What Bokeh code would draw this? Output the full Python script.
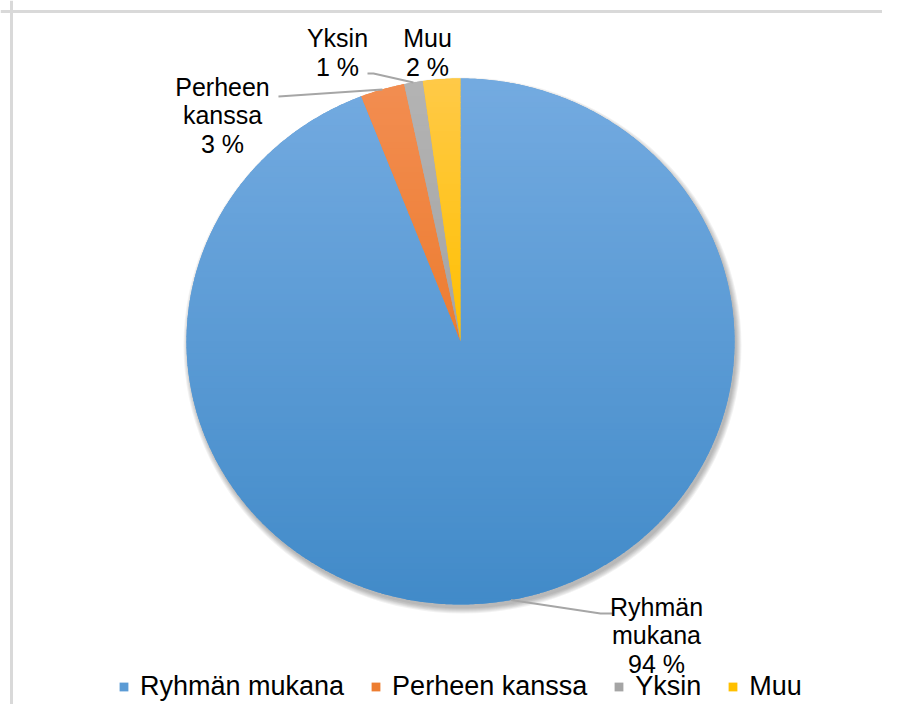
import numpy as np
from bokeh.plotting import figure
from bokeh.models import Range1d, Span, Legend, LegendItem
from bokeh.core.properties import value
from bokeh.embed import file_html
from bokeh.resources import INLINE

# ---- data ----
categories = ["Ryhmän mukana", "Perheen kanssa", "Yksin", "Muu"]
shares = [94.1, 2.6, 1.1, 2.2]
label_names = ["Ryhmän\nmukana", "Perheen\nkanssa", "Yksin", "Muu"]

# ---- styles ----
colors = ["#5B9BD5", "#ED7D31", "#A5A5A5", "#FFC000"]
top_rgb = [(116, 171, 225), (243, 142, 82), (180, 180, 180), (255, 202, 72)]
mid_rgb = [(91, 155, 213), (237, 125, 49), (165, 165, 165), (255, 192, 0)]
FONT = "Liberation Sans"

# screenshot-pixel coordinate system
W, H = 882, 704
cx, cy = 460.0, 341.0
rx, ry = 274.0, 263.0

# label layout: (block centre x, block centre y, leader attach points)
label_layout = {
    "Ryhmän mukana": (656, 635, [(600, 613), (612, 613)]),
    "Perheen kanssa": (222, 115, [(278, 96)]),
    "Yksin": (337, 52, [(373, 73), (367, 73)]),
    "Muu": (427, 52, None),
}

p = figure(width=W, height=H, output_backend="svg", toolbar_location=None,
           x_range=Range1d(0, W), y_range=Range1d(H, 0),
           min_border=0, outline_line_color=None,
           background_fill_color="white", border_fill_color="white")
p.axis.visible = False
p.grid.visible = False

# border (top/left of the chart area)
p.add_layout(Span(location=11, dimension="height", line_color="#D9D9D9", line_width=3))
p.add_layout(Span(location=11, dimension="width", line_color="#D9D9D9", line_width=3))

# soft shadow
ks = np.arange(0, 12, 2)
p.ellipse(x=[cx + 2] * len(ks), y=[cy + 4] * len(ks),
          width=[2 * rx + k for k in ks], height=[2 * ry + k for k in ks],
          fill_color="black", fill_alpha=0.05, line_color=None)

# slice geometry
total = sum(shares)
fr = np.array(shares) / total
ends = np.cumsum(fr) * 2 * np.pi
starts = ends - fr * 2 * np.pi
mids = (starts + ends) / 2


def slice_poly(a0, a1):
    n = max(3, int((a1 - a0) / (2 * np.pi) * 720))
    t = np.linspace(a0, a1, n)
    xs = np.concatenate([[cx], cx + rx * np.sin(t)])
    ys = np.concatenate([[cy], cy - ry * np.cos(t)])
    return xs, ys


def clip_half(poly, yb, keep_above):
    out = []
    if not poly:
        return out

    def inside(pt):
        return pt[1] >= yb if keep_above else pt[1] <= yb

    def inter(a, b):
        t = (yb - a[1]) / (b[1] - a[1])
        return (a[0] + t * (b[0] - a[0]), yb)

    for i in range(len(poly)):
        cur = poly[i]
        prev = poly[i - 1]
        if inside(cur):
            if not inside(prev):
                out.append(inter(prev, cur))
            out.append(cur)
        elif inside(prev):
            out.append(inter(prev, cur))
    return out


polys = [slice_poly(a0, a1) for a0, a1 in zip(starts, ends)]

# base solid slices (used by legend)
base = p.patches(xs=[list(px) for px, _ in polys], ys=[list(py) for _, py in polys],
                 fill_color=colors, line_color=None)

# gradient strips
nb = 90
edges = np.linspace(cy - ry, cy + ry, nb + 1)
sx, sy, sc = [], [], []
for i, (px, py) in enumerate(polys):
    poly = list(zip(px, py))
    tr, mr = np.array(top_rgb[i]), np.array(mid_rgb[i])
    br = 2 * mr - tr
    for b in range(nb):
        ya, yb = edges[b], edges[b + 1] + 1.0
        part = clip_half(clip_half(poly, ya, True), yb, False)
        if len(part) < 3:
            continue
        f = ((edges[b] + edges[b + 1]) / 2 - (cy - ry)) / (2 * ry)
        c = np.clip(tr + (br - tr) * f, 0, 255).astype(int)
        sx.append([q[0] for q in part])
        sy.append([q[1] for q in part])
        sc.append("#%02x%02x%02x" % tuple(c))
p.patches(xs=sx, ys=sy, fill_color=sc, line_color=None)

# leader lines and labels
lx, ly, lt = [], [], []
mxs, mys = [], []
for i, cat in enumerate(categories):
    bx, by, attach = label_layout[cat]
    lx.append(bx)
    ly.append(by)
    lt.append(f"{label_names[i]}\n{round(shares[i])} %")
    if attach:
        ex = cx + rx * np.sin(mids[i])
        ey = cy - ry * np.cos(mids[i])
        mxs.append([ex] + [a[0] for a in attach])
        mys.append([ey] + [a[1] for a in attach])
p.multi_line(xs=mxs, ys=mys, line_color="#A6A6A6", line_width=2)
p.text(x=lx, y=ly, text=lt, text_font=value(FONT), text_font_size=value("25px"),
       text_align="center", text_baseline="middle", text_line_height=1.02,
       text_color="black")

legend = Legend(items=[LegendItem(label=c, renderers=[base], index=i)
                       for i, c in enumerate(categories)],
                orientation="horizontal", location=(118, 2),
                label_text_font=FONT, label_text_font_size="27px",
                label_text_color="black", glyph_width=11, glyph_height=11,
                label_standoff=11, spacing=26, padding=0, margin=0,
                border_line_color=None, background_fill_alpha=0)
p.add_layout(legend)

open("out.html", "w").write(file_html(p, INLINE))
